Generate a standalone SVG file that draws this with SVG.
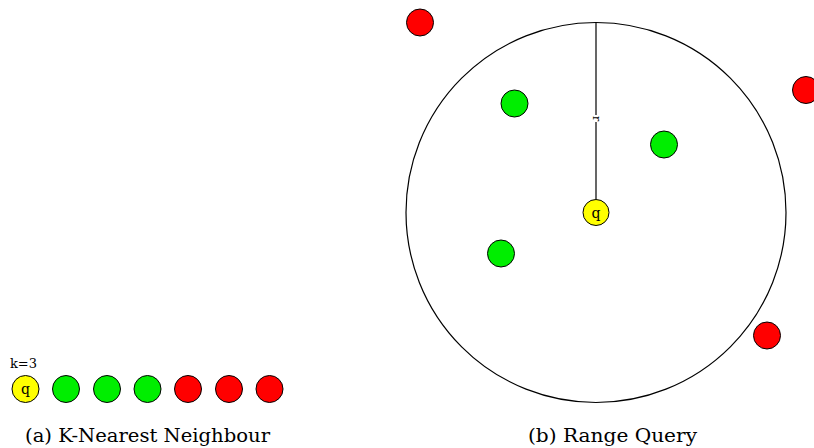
<svg xmlns="http://www.w3.org/2000/svg" width="814" height="448" viewBox="0 0 814 448">
<style>
.pt{stroke:#000;stroke-width:1}
.q{fill:#ffff00}
.g{fill:#00ee00}
.r{fill:#ff0000}
text{font-family:'DejaVu Serif',serif;fill:#000}
.cap{font-size:19px}
</style>
<rect width="814" height="448" fill="#fff"/>
<g id="panel-a">
<text x="10" y="368" font-size="13" textLength="27" lengthAdjust="spacingAndGlyphs">k=3</text>
<g id="a-q"><circle class="pt q" cx="25.5" cy="389" r="13.5"/><text x="25.5" y="394" font-size="14" text-anchor="middle">q</text></g>
<g id="a-g1"><circle class="pt g" cx="66" cy="389" r="13.5"/></g>
<g id="a-g2"><circle class="pt g" cx="107" cy="389" r="13.5"/></g>
<g id="a-g3"><circle class="pt g" cx="147.5" cy="389" r="13.5"/></g>
<g id="a-r1"><circle class="pt r" cx="188" cy="389" r="13.5"/></g>
<g id="a-r2"><circle class="pt r" cx="229" cy="389" r="13.5"/></g>
<g id="a-r3"><circle class="pt r" cx="269.5" cy="389" r="13.5"/></g>
<text class="cap" x="25" y="442" textLength="245" lengthAdjust="spacingAndGlyphs">(a) K-Nearest Neighbour</text>
</g>
<g id="panel-b">
<g id="range"><circle cx="596" cy="212.5" r="190" fill="none" stroke="#000" stroke-width="1.2"/></g>
<g id="connectors">
<line x1="596" y1="22.5" x2="596" y2="199" stroke="#000" stroke-width="1.2"/>
<rect x="593" y="115" width="6" height="7" fill="#fff"/>
<text font-size="11" transform="translate(593,118.5) rotate(90)" text-anchor="middle">r</text>
</g>
<g id="b-q"><circle class="pt q" cx="596" cy="212.5" r="13"/><text x="596" y="217.5" font-size="14" text-anchor="middle">q</text></g>
<g id="b-g1"><circle class="pt g" cx="514.5" cy="103.5" r="13.5"/></g>
<g id="b-g2"><circle class="pt g" cx="664" cy="144.5" r="13.5"/></g>
<g id="b-g3"><circle class="pt g" cx="501" cy="253.5" r="13.5"/></g>
<g id="b-r1"><circle class="pt r" cx="420" cy="22.5" r="13.5"/></g>
<g id="b-r2"><circle class="pt r" cx="806" cy="90" r="13.5"/></g>
<g id="b-r3"><circle class="pt r" cx="767" cy="335.5" r="13.5"/></g>
<text class="cap" x="528" y="442" textLength="169" lengthAdjust="spacingAndGlyphs">(b) Range Query</text>
</g>
</svg>
